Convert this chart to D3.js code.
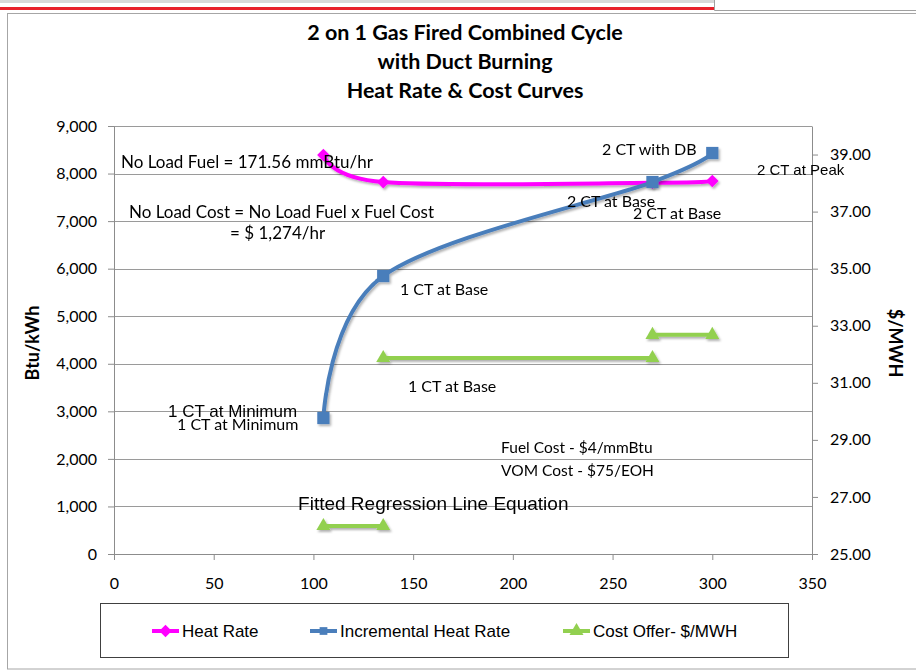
<!DOCTYPE html>
<html>
<head>
<meta charset="utf-8">
<script src="https://cdn.jsdelivr.net/npm/d3@7"></script>
<style>
  body { margin: 0; background: #fff; }
  .calibri { font-family: Lato, "Open Sans", sans-serif; }
  .arial { font-family: "Liberation Sans", Arial, sans-serif; }
  .grid line { stroke: #9a9a9a; stroke-width: 1; }
  .axis path, .axis line { stroke: #8c8c8c; }
  .axis text { font-family: Lato, sans-serif; font-size: 16px; fill: #000; }
</style>
</head>
<body>
<div id="chart"></div>
<script>
// chart data
var loadMW = [105, 135, 270, 300];
var heatRate = [8390, 7820, 7805, 7845];
var incrementalHeatRate = [2860, 5846, 7822, 8432];

// cost offer steps ($/MWH on the right axis), one pair per step
var costStepStart = [105, 135, 270];
var costStepEnd = [135, 270, 300];
var costOffer = [25.98, 31.87, 32.68];

var xTicks = [0, 50, 100, 150, 200, 250, 300, 350];
var yTicks = [0, 1000, 2000, 3000, 4000, 5000, 6000, 7000, 8000, 9000];
var y2Ticks = [25, 27, 29, 31, 33, 35, 37, 39];

var titleLines = ["2 on 1 Gas Fired Combined Cycle", "with Duct Burning", "Heat Rate & Cost Curves"];
var seriesNames = ["Heat Rate", "Incremental Heat Rate", "Cost Offer- $/MWH"];

var svgWidth = 916;
var svgHeight = 671;

var margin = { top: 126, right: 104, bottom: 117, left: 114 };
var width = svgWidth - margin.left - margin.right;
var height = svgHeight - margin.top - margin.bottom;

var svg = d3.select("#chart")
    .append("svg")
    .attr("width", svgWidth)
    .attr("height", svgHeight);

// soft shadow like the excel lines
var defs = svg.append("defs");
var shadow = defs.append("filter").attr("id", "shadow")
    .attr("x", "-20%").attr("y", "-20%").attr("width", "140%").attr("height", "140%");
shadow.append("feDropShadow")
    .attr("dx", 1.5).attr("dy", 2).attr("stdDeviation", 1.2)
    .attr("flood-color", "#000").attr("flood-opacity", 0.3);

// screenshot chrome at the top and chart frame
svg.append("rect").attr("x", 0).attr("y", 0).attr("width", 714).attr("height", 3).attr("fill", "#d8d8d8");
svg.append("line").attr("x1", 0).attr("x2", 714).attr("y1", 8.5).attr("y2", 8.5)
    .attr("stroke", "#e8202a").attr("stroke-width", 3);
svg.append("path").attr("d", "M714.5,0V10.5H916").attr("fill", "none").attr("stroke", "#a0a0a0");
svg.append("rect")
    .attr("x", 7.5).attr("y", 13.5)
    .attr("width", 930).attr("height", 655.5)
    .attr("fill", "none").attr("stroke", "#a6a6a6");

// title
svg.append("g").selectAll("text")
    .data(titleLines)
    .enter()
    .append("text")
    .attr("class", "calibri")
    .attr("x", 465)
    .attr("y", (d, i) => 40 + i * 29)
    .attr("text-anchor", "middle")
    .attr("font-size", 21.5)
    .attr("font-weight", "bold")
    .text(d => d);

var chartGroup = svg.append("g")
    .attr("transform", `translate(${margin.left}, ${margin.top})`);

var xScale = d3.scaleLinear().domain([0, 350]).range([0, width]);
var yScale = d3.scaleLinear().domain([0, 9000]).range([height, 0]);
var y2Scale = d3.scaleLinear().domain([25, 40]).range([height, 0]);

// gridlines
chartGroup.append("g")
    .attr("class", "grid")
    .selectAll("line")
    .data(yTicks)
    .enter()
    .append("line")
    .attr("x1", 0)
    .attr("x2", width)
    .attr("y1", d => Math.round(yScale(d)) + 0.5)
    .attr("y2", d => Math.round(yScale(d)) + 0.5);

// axes
chartGroup.append("g")
    .attr("class", "axis")
    .call(d3.axisLeft(yScale).tickValues(yTicks).tickFormat(d3.format(",")).tickSize(6).tickPadding(11).tickSizeOuter(0));

chartGroup.append("g")
    .attr("class", "axis")
    .attr("transform", `translate(0, ${height})`)
    .call(d3.axisBottom(xScale).tickValues(xTicks).tickSize(6).tickPadding(18).tickSizeOuter(0));

chartGroup.append("g")
    .attr("class", "axis")
    .attr("transform", `translate(${width}, 0)`)
    .call(d3.axisRight(y2Scale).tickValues(y2Ticks).tickFormat(d3.format(".2f")).tickSize(6).tickPadding(12).tickSizeOuter(0));

// axis titles
svg.append("text")
    .attr("class", "calibri")
    .attr("transform", "translate(39, 343) rotate(-90)")
    .attr("text-anchor", "middle")
    .attr("font-size", 18)
    .attr("font-weight", "bold")
    .text("Btu/kWh");

svg.append("text")
    .attr("class", "calibri")
    .attr("transform", "translate(889, 343) rotate(90)")
    .attr("text-anchor", "middle")
    .attr("font-size", 18)
    .attr("font-weight", "bold")
    .text("$/MWH");

// series
var heatPts = loadMW.map((x, i) => [x, heatRate[i]]);
var incPts = loadMW.map((x, i) => [x, incrementalHeatRate[i]]);

var smoothLine = d3.line()
    .x(d => xScale(d[0]))
    .y(d => yScale(d[1]))
    .curve(d3.curveCardinal.tension(0));

var magenta = "#ff00ff";
var blue = "#4a7ebb";
var green = "#92d050";

var diamond = d3.symbol().type(d3.symbolDiamond2).size(100);
var square = d3.symbol().type(d3.symbolSquare).size(150);
var triangle = d3.symbol().type(d3.symbolTriangle).size(85);

// cost offer steps
var costGroup = chartGroup.append("g").attr("filter", "url(#shadow)");
costOffer.forEach(function(v, i) {
    var pts = [[costStepStart[i], v], [costStepEnd[i], v]];
    costGroup.append("path")
        .attr("d", d3.line().x(d => xScale(d[0])).y(d => y2Scale(d[1]))(pts))
        .attr("fill", "none")
        .attr("stroke", green)
        .attr("stroke-width", 4);
    costGroup.selectAll(".tri" + i)
        .data(pts)
        .enter()
        .append("path")
        .attr("d", triangle)
        .attr("transform", d => `translate(${xScale(d[0])}, ${y2Scale(d[1])})`)
        .attr("fill", green);
});

var heatGroup = chartGroup.append("g").attr("filter", "url(#shadow)");
heatGroup.append("path")
    .attr("d", smoothLine(heatPts))
    .attr("fill", "none")
    .attr("stroke", magenta)
    .attr("stroke-width", 4);
heatGroup.selectAll(".dia")
    .data(heatPts)
    .enter()
    .append("path")
    .attr("d", diamond)
    .attr("transform", d => `translate(${xScale(d[0])}, ${yScale(d[1])})`)
    .attr("fill", magenta);

var incGroup = chartGroup.append("g").attr("filter", "url(#shadow)");
incGroup.append("path")
    .attr("d", smoothLine(incPts))
    .attr("fill", "none")
    .attr("stroke", blue)
    .attr("stroke-width", 4);
incGroup.selectAll(".sq")
    .data(incPts)
    .enter()
    .append("path")
    .attr("d", square)
    .attr("transform", d => `translate(${xScale(d[0])}, ${yScale(d[1])})`)
    .attr("fill", blue);

// text notes placed in data units (x in MW, y in Btu/kWh)
var notes = [
    { t: "No Load Fuel = 171.56 mmBtu/hr", x: 3.5, y: 8243, f: "calibri", s: 17 },
    { t: "No Load Cost = No Load Fuel x Fuel Cost", x: 7.5, y: 7192, f: "calibri", s: 17 },
    { t: "= $ 1,274/hr", x: 58.2, y: 6750, f: "calibri", s: 17 },
    { t: "2 CT with DB", x: 244.7, y: 8516, f: "calibri", s: 16 },
    { t: "2 CT at Peak", x: 322.4, y: 8075, f: "arial", s: 15 },
    { t: "2 CT at Base", x: 227.1, y: 7423, f: "calibri", s: 16 },
    { t: "2 CT at Base", x: 260.2, y: 7170, f: "calibri", s: 16 },
    { t: "1 CT at Base", x: 143.4, y: 5572, f: "calibri", s: 16 },
    { t: "1 CT at Base", x: 147.4, y: 3533, f: "calibri", s: 16 },
    { t: "1 CT at Minimum", x: 27.1, y: 3007, f: "arial", s: 17 },
    { t: "1 CT at Minimum", x: 31.6, y: 2734, f: "calibri", s: 16 },
    { t: "Fitted Regression Line Equation", x: 92.3, y: 1072, f: "arial", s: 19 },
    { t: "Fuel Cost - $4/mmBtu", x: 194.1, y: 2229, f: "calibri", s: 15.5 },
    { t: "VOM Cost - $75/EOH", x: 194.1, y: 1745, f: "calibri", s: 15.5 }
];

chartGroup.append("g").selectAll("text")
    .data(notes)
    .enter()
    .append("text")
    .attr("class", d => d.f)
    .attr("x", d => xScale(d.x))
    .attr("y", d => yScale(d.y))
    .attr("dy", "0.35em")
    .attr("font-size", d => d.s)
    .text(d => d.t);

// legend
var legend = svg.append("g");
legend.append("rect")
    .attr("x", 100.5).attr("y", 603.5)
    .attr("width", 688).attr("height", 54)
    .attr("fill", "#fff").attr("stroke", "#404040");

var legendX = [152, 310, 563];
var legendColors = [magenta, blue, green];
var legendSymbols = [diamond, d3.symbol().type(d3.symbolSquare).size(60), triangle];

seriesNames.forEach(function(name, i) {
    var g = legend.append("g").attr("transform", `translate(${legendX[i]}, 631)`);
    g.append("line")
        .attr("x1", 0).attr("x2", 27)
        .attr("stroke", legendColors[i]).attr("stroke-width", 4);
    g.append("path")
        .attr("d", legendSymbols[i])
        .attr("transform", "translate(13.5, 0)")
        .attr("fill", legendColors[i]);
    g.append("text")
        .attr("class", "arial")
        .attr("x", 30)
        .attr("dy", "0.35em")
        .attr("font-size", 17)
        .text(name);
});
</script>
</body>
</html>
